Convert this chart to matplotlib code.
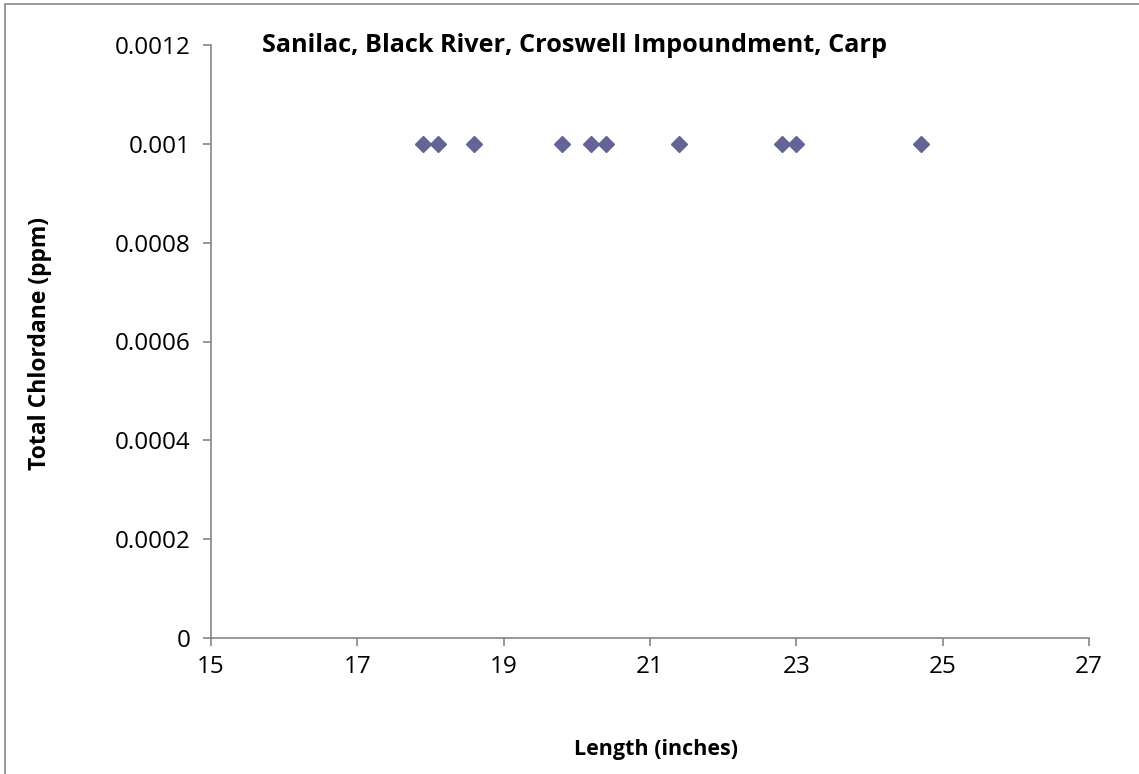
import matplotlib.pyplot as plt
from matplotlib.patches import Rectangle

# data
length_in = [17.9, 18.1, 18.6, 19.8, 20.2, 20.4, 21.4, 22.8, 23.0, 24.7]
chlordane_ppm = [0.001] * len(length_in)

x_ticks = [15, 17, 19, 21, 23, 25, 27]
y_ticks = [0, 0.0002, 0.0004, 0.0006, 0.0008, 0.001, 0.0012]
y_labels = ["0", "0.0002", "0.0004", "0.0006", "0.0008", "0.001", "0.0012"]

plt.rcParams["font.family"] = ["Open Sans", "DejaVu Sans"]

W, H = 1139, 774
fig = plt.figure(figsize=(W / 100, H / 100), dpi=100)
ax = fig.add_axes([211 / W, 1 - 638 / H, (1089 - 211) / W, (638 - 45) / H])

# outer chart border (only top/left visible in the original)
fig.patches.append(Rectangle((5 / W, -0.1), 1.2, 1 - 4 / H + 0.1, transform=fig.transFigure,
                             fill=False, edgecolor="#868686", linewidth=1.2))

ax.plot(length_in, chlordane_ppm, linestyle="none", marker="D", markersize=8,
        color="#646496", markeredgecolor="#646496")

ax.set_xlim(15, 27)
ax.set_ylim(0, 0.0012)
ax.set_xticks(x_ticks)
ax.set_yticks(y_ticks)
ax.set_yticklabels(y_labels)

for s in ["top", "right"]:
    ax.spines[s].set_visible(False)
for s in ["left", "bottom"]:
    ax.spines[s].set_color("#868686")
    ax.spines[s].set_linewidth(1.2)
ax.tick_params(axis="both", direction="out", length=6, width=1.2, color="#868686",
               labelsize=17.5, labelcolor="black")
ax.tick_params(axis="x", pad=6)
ax.tick_params(axis="y", pad=9)

fig.text(575 / W, 1 - 46 / H, "Sanilac, Black River, Croswell Impoundment, Carp",
         fontsize=18.2, fontweight="bold", ha="center", va="center")
fig.text(656 / W, 1 - 749 / H, "Length (inches)", fontsize=15.5, fontweight="bold",
         ha="center", va="center")
fig.text(40 / W, 1 - 343 / H, "Total Chlordane (ppm)", fontsize=16.5, fontweight="bold",
         ha="center", va="center", rotation=90)

fig.savefig("out.png", dpi=100)
